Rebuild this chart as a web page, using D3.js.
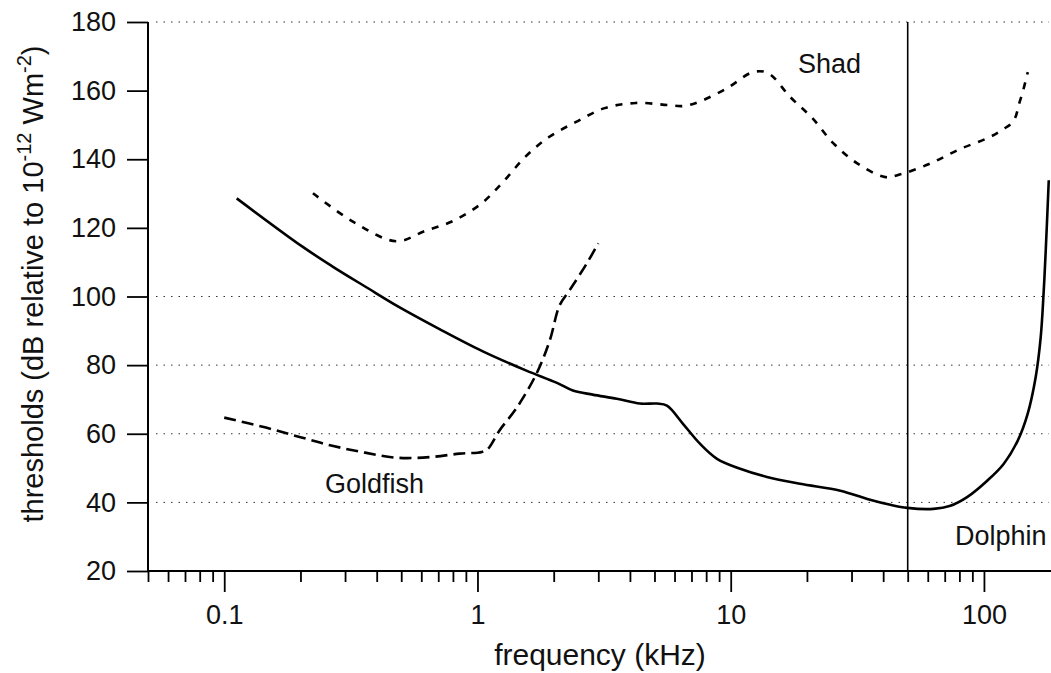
<!DOCTYPE html>
<html lang="en">
  <head>
    <meta charset="UTF-8" />
    <title>Hearing thresholds</title>
    <script src="https://d3js.org/d3.v7.min.js"></script>
    <style>
      body {
        margin: 0;
        background: #fff;
      }
      * {
        font-family: "Liberation Sans", Arial, sans-serif;
      }
      .tick-label {
        fill: #111;
      }
      .series-label {
        font-size: 27px;
        fill: #111;
      }
      .axis-title {
        font-size: 29px;
        fill: #111;
      }
    </style>
  </head>
  <body>
    <script>
      // frequency in kHz, thresholds in dB re 10^-12 W/m^2
      const dolphinFreq = [0.112, 0.203, 0.267, 0.364, 0.491, 0.708, 1.05, 1.56, 2.05, 2.38, 2.85, 3.55, 4.38, 5.11, 5.6, 6.48, 7.56, 8.83, 10.9, 13.9, 18.8, 27.1, 34.6, 42.7, 49.8, 63.1, 73.7, 86.1, 103, 119.6, 136, 148.8, 160, 167.5, 172, 175.4, 180.3];
      const dolphinDb = [128.6, 114.6, 108.8, 102.7, 96.9, 90.5, 84.0, 78.4, 74.9, 72.6, 71.4, 70.2, 68.8, 68.8, 68.2, 62.9, 57.1, 52.7, 49.8, 47.4, 45.4, 43.4, 41.0, 39.3, 38.4, 38.1, 39.0, 41.6, 46.3, 51.2, 58.0, 65.8, 76.4, 88.0, 100.9, 113.4, 133.9];

      const shadFreq = [0.224, 0.326, 0.478, 0.617, 0.811, 1.04, 1.27, 1.54, 1.91, 2.44, 3.18, 4.22, 5.64, 6.47, 7.42, 9.67, 12.25, 14.05, 17.2, 21.0, 25.4, 31.6, 40.8, 46.8, 61.5, 80.0, 105, 119.6, 131, 138, 143.6, 149];
      const shadDb = [130.1, 121.6, 116.1, 119.0, 122.2, 127.2, 133.6, 140.6, 146.4, 150.8, 154.9, 156.4, 155.8, 155.5, 156.6, 160.7, 165.4, 165.1, 158.1, 152.0, 144.7, 138.8, 134.8, 135.6, 138.8, 142.9, 146.4, 148.8, 151.2, 156.4, 160.7, 165.4];

      const goldFreq = [0.1, 0.146, 0.2, 0.267, 0.36, 0.482, 0.65, 0.85, 1.04, 1.1, 1.22, 1.43, 1.71, 1.93, 2.11, 2.31, 2.7, 3.0];
      const goldDb = [64.7, 61.8, 59.0, 56.5, 54.5, 53.0, 53.2, 54.2, 54.7, 55.6, 60.9, 67.6, 77.5, 87.2, 97.4, 101.8, 109.6, 115.5];

      const yTicks = [20, 40, 60, 80, 100, 120, 140, 160, 180];
      const xTickLabels = [0.1, 1, 10, 100];
      const gridValues = [40, 60, 80, 100, 180];
      const markerFreq = 50;

      draw();

      function draw() {
        const width = 1051;
        const height = 673;

        const x = d3.scaleLog().domain([0.05, 184]).range([148, 1051]);
        const y = d3.scaleLinear().domain([20, 180]).range([571, 22]);

        const svg = d3
          .select("body")
          .append("svg")
          .attr("width", width)
          .attr("height", height);

        // dotted grid lines
        svg
          .selectAll("line.grid")
          .data(gridValues)
          .enter()
          .append("line")
          .attr("class", "grid")
          .attr("x1", 156)
          .attr("x2", 1049)
          .attr("y1", (d) => y(d))
          .attr("y2", (d) => y(d))
          .style("stroke", "#333")
          .style("stroke-width", 1)
          .style("stroke-dasharray", "1.5,6");

        // 50 kHz marker line
        svg
          .append("line")
          .attr("x1", x(markerFreq))
          .attr("x2", x(markerFreq))
          .attr("y1", y(180))
          .attr("y2", y(20))
          .style("stroke", "#000")
          .style("stroke-width", 1.6);

        // y axis
        const yAxis = svg
          .append("g")
          .attr("transform", "translate(148,0)")
          .call(d3.axisLeft(y).tickValues(yTicks).tickSize(21).tickPadding(11));
        yAxis.select(".domain").attr("d", `M0,${y(180)}V${y(20) + 1}`);

        // x axis with minor ticks
        const minor = [];
        [0.01, 0.1, 1, 10, 100].forEach((dec) => {
          for (let k = 2; k <= 9; k++) {
            const v = dec * k;
            if (v >= 0.05 && v <= 184) minor.push(v);
          }
        });
        const xMinor = svg
          .append("g")
          .attr("transform", `translate(0,${y(20)})`)
          .call(d3.axisBottom(x).tickValues(minor).tickSize(11).tickFormat(""));
        xMinor.select(".domain").remove();

        const xAxis = svg
          .append("g")
          .attr("transform", `translate(0,${y(20)})`)
          .call(
            d3
              .axisBottom(x)
              .tickValues(xTickLabels)
              .tickSize(21)
              .tickPadding(13)
              .tickFormat((d) => d3.format("~g")(d))
          );
        xAxis.select(".domain").attr("d", `M148,0H1051`);

        svg.selectAll(".domain").style("stroke", "#000").style("stroke-width", 2);
        svg.selectAll(".tick line").style("stroke", "#000").style("stroke-width", 1.8);
        svg
          .selectAll(".tick text")
          .attr("class", "tick-label")
          .style("font-size", "27px")
          .style("font-family", '"Liberation Sans", Arial, sans-serif');

        // curves
        const line = d3
          .line()
          .x((d) => x(d[0]))
          .y((d) => y(d[1]))
          .curve(d3.curveCatmullRom.alpha(0.5));

        const series = [
          { f: shadFreq, v: shadDb, dash: "7,8" },
          { f: goldFreq, v: goldDb, dash: "12,6" },
          { f: dolphinFreq, v: dolphinDb, dash: null },
        ];

        series.forEach(function (s) {
          svg
            .append("path")
            .attr("d", line(d3.zip(s.f, s.v)))
            .style("fill", "none")
            .style("stroke", "#000")
            .style("stroke-width", 2.6)
            .style("stroke-dasharray", s.dash);
        });

        // series labels
        svg.append("text").attr("class", "series-label").attr("x", 798).attr("y", 73).text("Shad");
        svg.append("text").attr("class", "series-label").attr("x", 325).attr("y", 493).text("Goldfish");
        svg.append("text").attr("class", "series-label").attr("x", 955).attr("y", 545).text("Dolphin");

        // axis titles
        svg
          .append("text")
          .attr("class", "axis-title")
          .attr("x", 600)
          .attr("y", 665)
          .attr("text-anchor", "middle")
          .style("font-size", "30px")
          .text("frequency (kHz)");

        const yt = svg
          .append("text")
          .attr("class", "axis-title")
          .attr("text-anchor", "middle")
          .attr("transform", "translate(43,284) rotate(-90)");
        yt.append("tspan").text("thresholds (dB relative to 10");
        yt.append("tspan").attr("dy", -12).style("font-size", "20px").text("-12");
        yt.append("tspan").attr("dy", 12).text(" Wm");
        yt.append("tspan").attr("dy", -12).style("font-size", "20px").text("-2");
        yt.append("tspan").attr("dy", 12).text(")");
      }
    </script>
  </body>
</html>
